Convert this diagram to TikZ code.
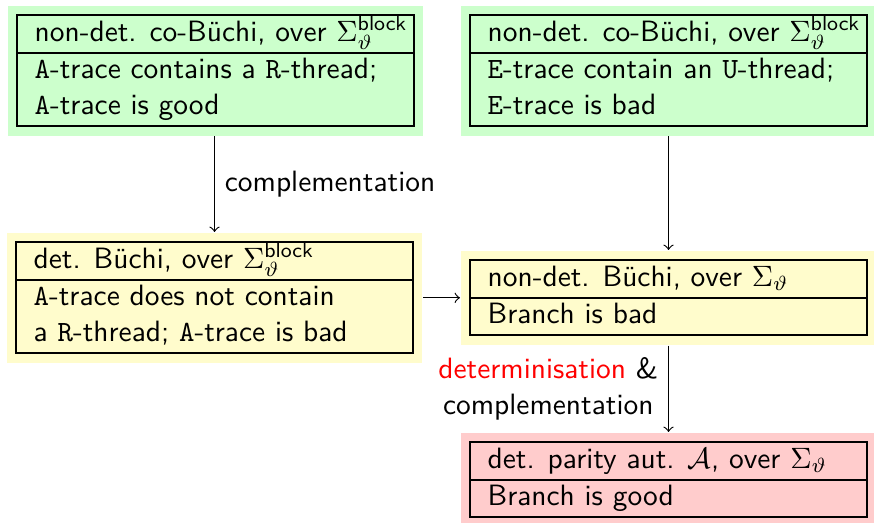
\documentclass[tikz,border=0pt]{standalone}
\usepackage{array}
\newlength\cellw
\setlength\cellw{123pt}
\setlength\arrayrulewidth{0.7pt}
\setlength\tabcolsep{5.5pt}
% automaton box: a framed two-part table, header on top
\newcommand\autbox[2]{%
  \begin{tabular}{|l|}\hline
    \makebox[\cellw][l]{#1}\\\hline
    #2\\\hline
  \end{tabular}}
\newcommand\sblock{\Sigma_\vartheta^{\mathsf{block}}}
\begin{document}
\begin{tikzpicture}[x=0.34pt,y=-0.34pt,
  aut/.style={anchor=north west,inner sep=3pt,font=\sffamily},
  greenbox/.style={aut,fill=green!20},
  yellowbox/.style={aut,fill=yellow!20},
  redbox/.style={aut,fill=red!20},
  flow/.style={->},
  lbl/.style={font=\sffamily}]
\useasboundingbox (0,0) rectangle (874,523);

\node[greenbox] (nca) at (7,5)
  {\autbox{non-det. co-Büchi, over $\sblock$}
          {\texttt{A}-trace contains a \texttt{R}-thread;\\ \texttt{A}-trace is good}};
\node[greenbox] (nce) at (460,5)
  {\autbox{non-det. co-Büchi, over $\sblock$}
          {\texttt{E}-trace contain an \texttt{U}-thread;\\ \texttt{E}-trace is bad}};
\node[yellowbox] (db) at (6,232)
  {\autbox{det. Büchi, over $\sblock$}
          {\texttt{A}-trace does not contain\\ a \texttt{R}-thread; \texttt{A}-trace is bad}};
\node[yellowbox] (nb) at (460,250)
  {\autbox{non-det. Büchi, over $\Sigma_\vartheta$}
          {Branch is bad}};
\node[redbox] (dp) at (460,432)
  {\autbox{det. parity aut. $\mathcal{A}$, over $\Sigma_\vartheta$}
          {Branch is good}};

\draw[flow] (nca.south -| db.north) -- node[lbl,right] {complementation} (db.north);
\draw[flow] (nce.south -| nb.north) -- (nb.north);
\draw[flow] (db.east |- nb.west) -- (nb.west);
\draw[flow] (nb.south) -- node[lbl,left,align=center]
  {\textcolor{red}{determinisation} \&\\ complementation} (dp.north);
\end{tikzpicture}
\end{document}
